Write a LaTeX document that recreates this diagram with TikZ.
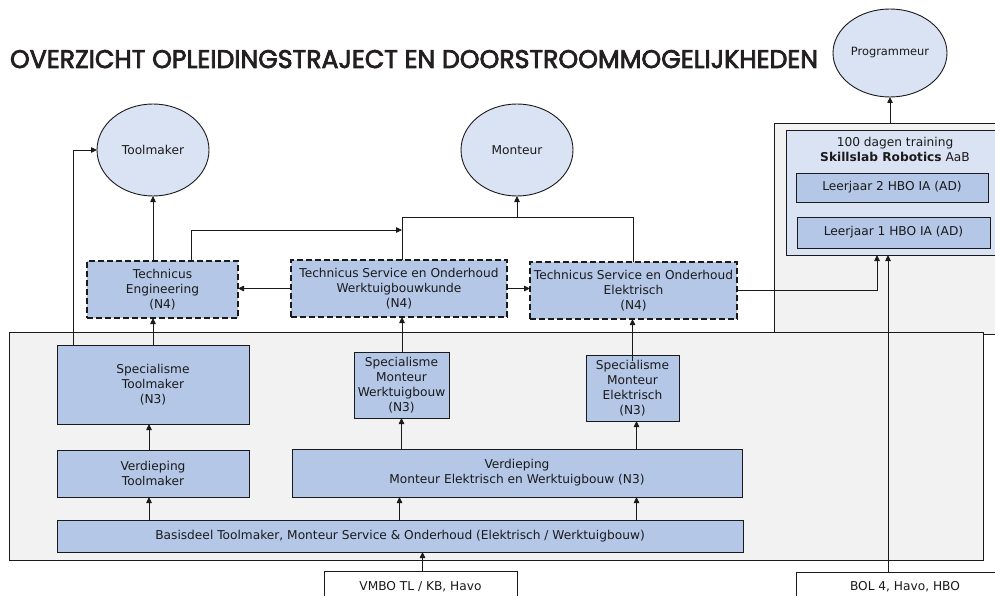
\documentclass[tikz,border=0pt]{standalone}
\usepackage{fontspec}
\usepackage{graphicx}
\setmainfont{DejaVu Sans}
\newfontfamily\titlefont{Poppins}[FakeBold=3]
\usetikzlibrary{shapes.geometric,arrows.meta}
\definecolor{greybg}{HTML}{F2F2F2}
\definecolor{boxblue}{HTML}{B4C7E7}
\definecolor{lightblue}{HTML}{DAE3F3}
\definecolor{linec}{HTML}{1A1A1A}
\definecolor{titlec}{HTML}{231F20}
\begin{document}
\begin{tikzpicture}[x=1pt,y=-1pt,
  every node/.style={inner sep=0pt,outer sep=0pt,align=center,font=\fontsize{12.2}{15}\selectfont,text=linec},
  ell/.style={ellipse,draw=linec,fill=lightblue,line width=0.9pt},
  dbox/.style={rectangle,draw=linec,fill=boxblue,line width=1.2pt,dash pattern=on 6pt off 3pt,anchor=north west},
  sbox/.style={rectangle,draw=linec,fill=boxblue,line width=0.9pt,anchor=north west},
  panel/.style={rectangle,draw=linec,fill=greybg,line width=0.9pt,anchor=north west},
  wbox/.style={rectangle,draw=linec,fill=white,line width=0.8pt,anchor=north west},
  arr/.style={draw=linec,line width=0.8pt,-{Triangle[length=6pt,width=5.5pt]}},
  ln/.style={draw=linec,line width=0.8pt}]
\useasboundingbox (0,0) rectangle (995,596);
\clip (0,0) rectangle (995,596);

% title
\node[anchor=base west,text=titlec] (title) at (10,68) {\resizebox{808pt}{18pt}{\titlefont OVERZICHT OPLEIDINGSTRAJECT EN DOORSTROOMMOGELIJKHEDEN}};

% panels
\node[panel,minimum width=240pt,minimum height=211pt] (rpanel) at (774,123) {};
\node[panel,minimum width=974pt,minimum height=228pt] (mainbox) at (9,332) {};
\node[rectangle,draw=linec,fill=lightblue,line width=0.9pt,anchor=north west,minimum width=230pt,minimum height=125pt] (skill) at (786,130) {};
\node (skilltxt) at (895,149.5) {100 dagen training\\\textbf{Skillslab Robotics} AaB};
\node[sbox,minimum width=192pt,minimum height=29pt] (lj2) at (796,173) {Leerjaar 2 HBO IA (AD)};
\node[sbox,minimum width=193pt,minimum height=31pt] (lj1) at (797,217) {Leerjaar 1 HBO IA (AD)};

% ellipses
\node[ell,minimum width=112pt,minimum height=92pt] (toolmaker) at (153,150) {Toolmaker};
\node[ell,minimum width=112pt,minimum height=92pt] (monteur) at (517,150) {Monteur};
\node[ell,minimum width=114pt,minimum height=88pt,font=\fontsize{11.4}{14}\selectfont] (prog) at (890,53) {Programmeur};

% N4 boxes
\node[dbox,minimum width=151pt,minimum height=57pt] (eng) at (87,261) {Technicus\\Engineering\\(N4)};
\node[dbox,minimum width=216pt,minimum height=57pt] (wtb) at (291,260) {Technicus Service en Onderhoud\\Werktuigbouwkunde\\(N4)};
\node[dbox,minimum width=207pt,minimum height=57pt] (elk) at (530,262) {Technicus Service en Onderhoud\\Elektrisch\\(N4)};

% N3 boxes
\node[sbox,minimum width=192pt,minimum height=79pt] (spectm) at (57,345) {Specialisme\\Toolmaker\\(N3)};
\node[sbox,minimum width=95pt,minimum height=66pt] (specwtb) at (354,352) {Specialisme\\Monteur\\Werktuigbouw\\(N3)};
\node[sbox,minimum width=93pt,minimum height=66pt] (specelk) at (586,355) {Specialisme\\Monteur\\Elektrisch\\(N3)};
\node[sbox,minimum width=192pt,minimum height=47pt] (verdtm) at (57,450) {Verdieping\\Toolmaker};
\node[sbox,minimum width=450pt,minimum height=48pt] (verdm) at (292,449) {Verdieping\\Monteur Elektrisch en Werktuigbouw (N3)};
\node[sbox,minimum width=686pt,minimum height=32pt] (basis) at (57,520) {Basisdeel Toolmaker, Monteur Service \& Onderhoud (Elektrisch / Werktuigbouw)};

% entry boxes
\node[wbox,minimum width=193pt,minimum height=32pt] (vmbo) at (324,571) {VMBO TL / KB, Havo};
\node[wbox,minimum width=218pt,minimum height=30pt] (bol) at (796,572) {BOL 4, Havo, HBO};

% coordinates
\coordinate (skin1) at (877,255);
\coordinate (skin2) at (888,255);
\coordinate (jtop) at (402,217);
\coordinate (jeng) at (402,230);

% connectors
\draw[arr] (rpanel.north -| prog.south) -- (prog.south);
\draw[arr] (elk.east) -| (skin1);
\draw[arr] (bol.north -| skin2) -- (skin2);

\draw[arr] (eng.north -| toolmaker.south) -- (toolmaker.south);
\draw[arr] ([xshift=28.5pt]eng.north) |- (jeng);
\draw[ln] (wtb.north -| jtop) -- (jtop) -| (elk.north);
\draw[arr] (monteur.south |- jtop) -- (monteur.south);
\draw[arr] (wtb.west) -- (wtb.west -| eng.east);
\draw[arr] (wtb.east) -- (wtb.east -| elk.west);
\draw[arr] ([xshift=-80pt]spectm.north) |- (toolmaker.west);

\draw[arr] (spectm.north) -- (spectm.north |- eng.south);
\draw[arr] (specwtb.north -| jtop) -- (wtb.south -| jtop);
\draw[arr] ([yshift=-6pt]specelk.north) -- (specelk.north |- elk.south);
\draw[arr] ([xshift=-4pt]verdtm.north) -- ([xshift=-4pt]spectm.south);
\draw[arr] (verdm.north -| specwtb.south) -- (specwtb.south);
\draw[arr] ([xshift=4pt]verdm.north -| specelk.south) -- ([xshift=4pt]specelk.south);
\draw[arr] ([xshift=-4pt]basis.north -| verdtm.south) -- ([xshift=-4pt]verdtm.south);
\draw[arr] ([xshift=-2pt]basis.north -| specwtb.south) -- ([xshift=-2pt]verdm.south -| specwtb.south);
\draw[arr] ([xshift=4pt]basis.north -| specelk.south) -- ([xshift=4pt]verdm.south -| specelk.south);
\draw[arr] ([xshift=2pt]vmbo.north) -- ([xshift=2pt]vmbo.north |- basis.south);
\end{tikzpicture}
\end{document}
